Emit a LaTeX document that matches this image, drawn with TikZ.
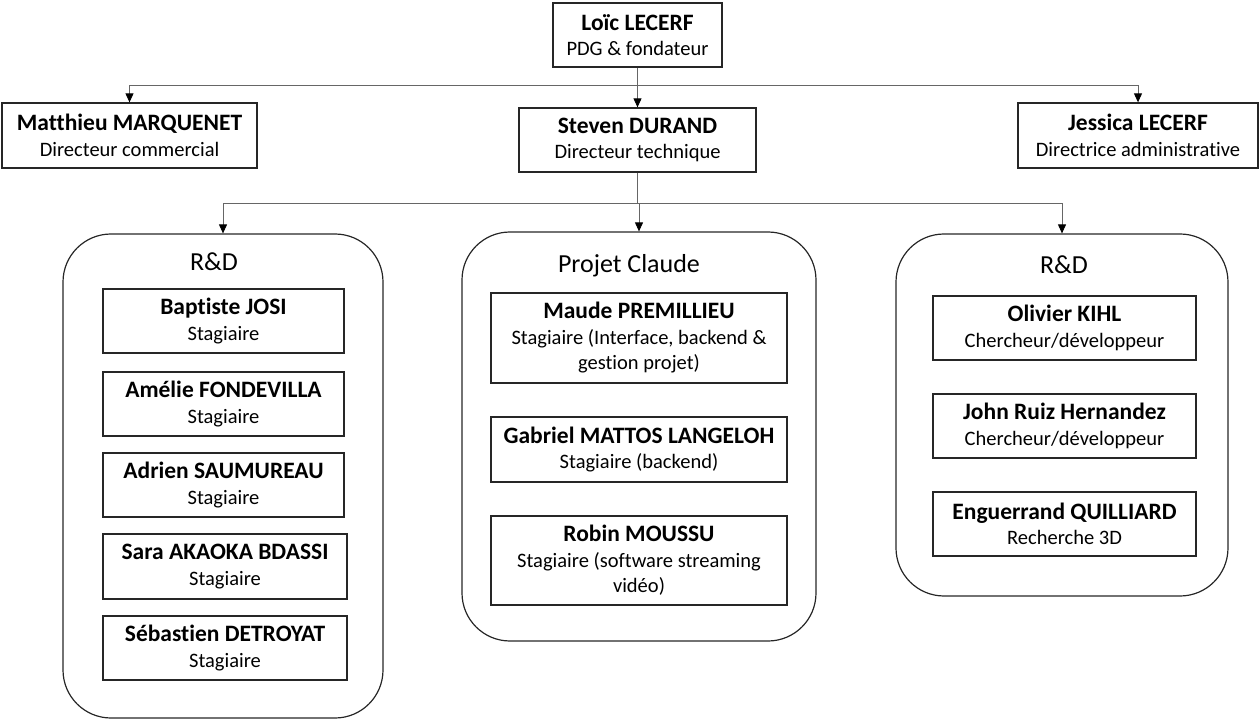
\documentclass[tikz,border=0pt]{standalone}
\usepackage{fontspec}
\setmainfont{Carlito}[Ligatures=NoCommon]
\usetikzlibrary{arrows.meta}
\newcommand{\namefont}{\fontsize{23.5}{25.5}\selectfont\bfseries}
\newcommand{\rolefont}{\fontsize{20.5}{25.5}\selectfont}
\newcommand{\titlefont}{\fontsize{26}{28}\selectfont}
\newcommand{\pers}[2]{{\namefont #1}\\#2}
\tikzset{
  pbox/.style={draw=black!85, line width=1.3pt, align=center, inner sep=0pt, fill=white, font=\rolefont},
  grp/.style={draw=black!85, line width=1.2pt, rounded corners=48pt, inner sep=0pt},
  conn/.style={draw=black!60, line width=0.9pt},
  arr/.style={conn, -{Triangle[width=8pt,length=9pt,black]}},
  ttl/.style={anchor=base, inner sep=0pt, font=\titlefont}
}
\begin{document}
\begin{tikzpicture}[x=1pt,y=-1pt]
\useasboundingbox (0,0) rectangle (1259,719);
% top level
\node[pbox, minimum width=169pt, minimum height=64pt] (loic) at (637.5,35) {\pers{Loïc LECERF}{PDG \& fondateur}};
\node[pbox, minimum width=255pt, minimum height=65pt] (matt) at (129.5,135.5) {\pers{Matthieu MARQUENET}{Directeur commercial}};
\node[pbox, minimum width=237pt, minimum height=64pt] (steven) at (637.5,140) {\pers{Steven DURAND}{Directeur technique}};
\node[pbox, minimum width=240pt, minimum height=65pt] (jess) at (1138,135.5) {\pers{Jessica LECERF}{Directrice administrative}};
% groups
\node[grp, minimum width=320pt, minimum height=484pt] (rdL) at (223,476) {};
\node[grp, minimum width=354pt, minimum height=409pt] (proj) at (639,436.5) {};
\node[grp, minimum width=332pt, minimum height=362pt] (rdR) at (1062,415) {};
\node[ttl] (tL) at (214,271) {R\&D};
\node[ttl] (tM) at (629,273) {Projet Claude};
\node[ttl] (tR) at (1064,274) {R\&D};
% left group members
\node[pbox, minimum width=241pt, minimum height=64pt] (l1) at (223.5,321) {\pers{Baptiste JOSI}{Stagiaire}};
\node[pbox, minimum width=241pt, minimum height=64pt] (l2) at (223.5,404) {\pers{Amélie FONDEVILLA}{Stagiaire}};
\node[pbox, minimum width=241pt, minimum height=64pt] (l3) at (223.5,485) {\pers{Adrien SAUMUREAU}{Stagiaire}};
\node[pbox, minimum width=244pt, minimum height=65pt] (l4) at (225,566.5) {\pers{Sara AKAOKA BDASSI}{Stagiaire}};
\node[pbox, minimum width=244pt, minimum height=64pt] (l5) at (225,648) {\pers{Sébastien DETROYAT}{Stagiaire}};
% middle group members
\node[pbox, minimum width=296pt, minimum height=90pt] (m1) at (639,338) {\pers{Maude PREMILLIEU}{Stagiaire (Interface, backend \&\\gestion projet)}};
\node[pbox, minimum width=296pt, minimum height=65pt] (m2) at (639,449.5) {\pers{Gabriel MATTOS LANGELOH}{Stagiaire (backend)}};
\node[pbox, minimum width=296pt, minimum height=89pt] (m3) at (639,560.5) {\pers{Robin MOUSSU}{Stagiaire (software streaming\\vidéo)}};
% right group members
\node[pbox, minimum width=263pt, minimum height=64pt] (r1) at (1064.5,328) {\pers{Olivier KIHL}{Chercheur/développeur}};
\node[pbox, minimum width=263pt, minimum height=64pt] (r2) at (1064.5,426) {\pers{John Ruiz Hernandez}{Chercheur/développeur}};
\node[pbox, minimum width=263pt, minimum height=64pt] (r3) at (1064.5,524) {\pers{Enguerrand QUILLIARD}{Recherche 3D}};
% connectors level 1
\coordinate (b1) at (637.5,85);
\draw[arr] (loic.south) -- (steven.north);
\draw[arr] (b1) -| (matt.north);
\draw[arr] (b1) -| (jess.north);
% connectors level 2
\coordinate (b2) at (637.5,203);
\draw[conn] (steven.south) -- (b2);
\draw[arr] (b2) -| (rdL.north);
\draw[arr] (b2) -| (proj.north);
\draw[arr] (b2) -| (rdR.north);
\end{tikzpicture}
\end{document}
